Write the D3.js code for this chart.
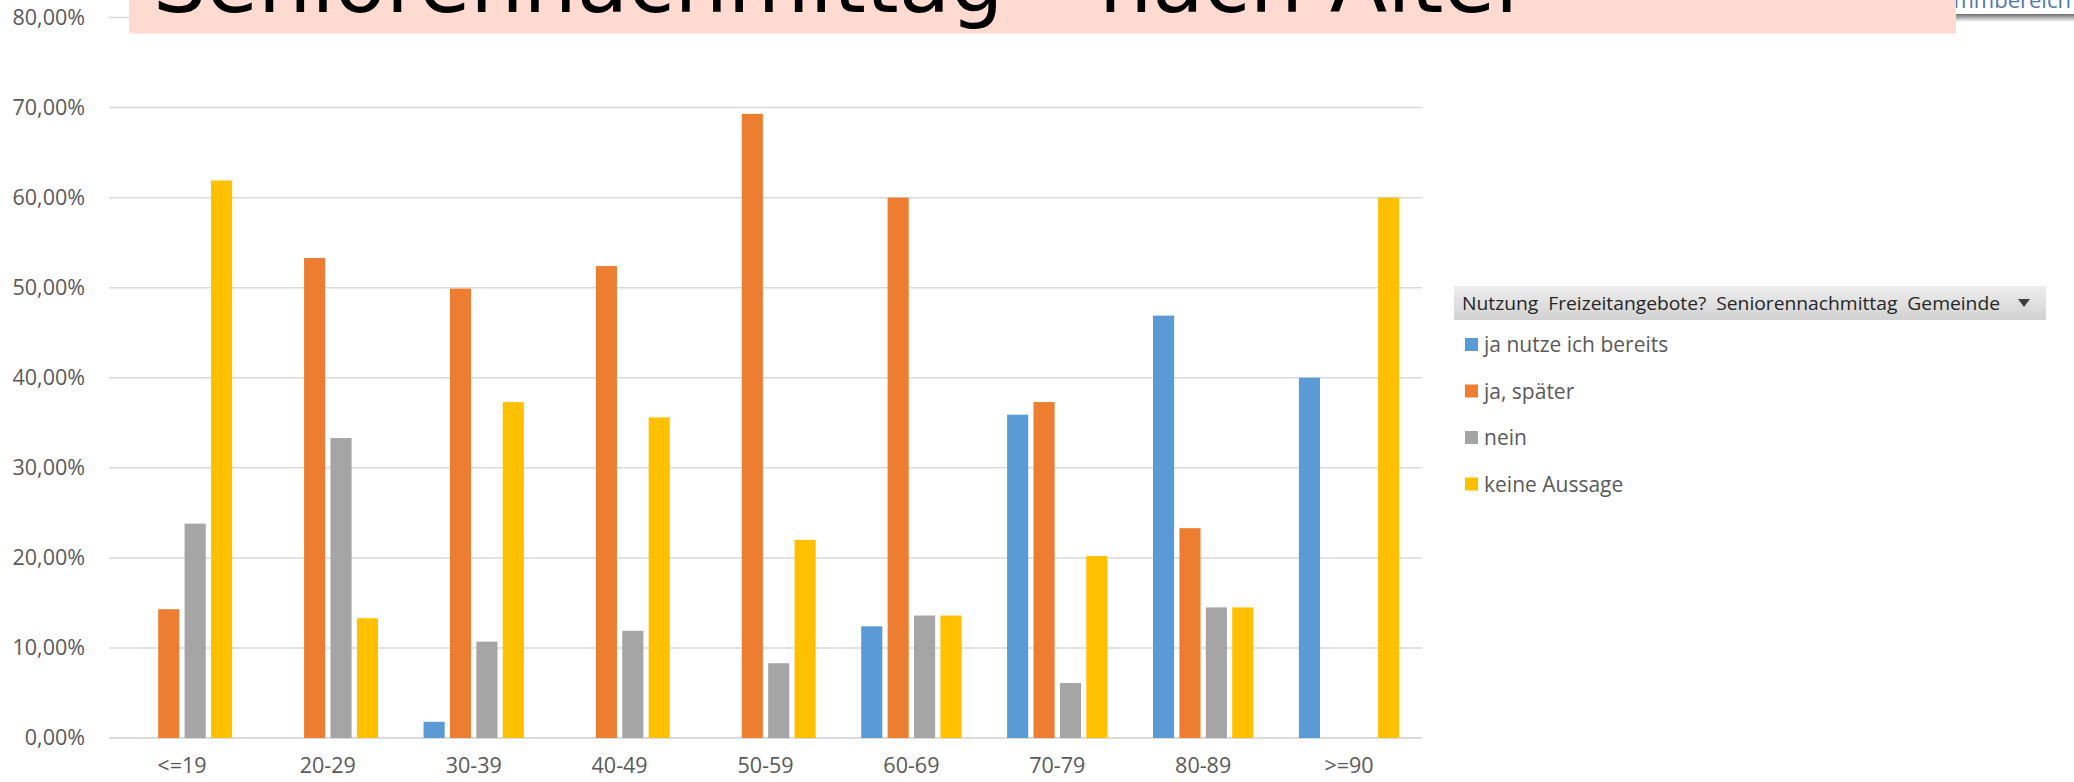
<!DOCTYPE html>
<html>
<head>
<meta charset="utf-8">
<script src="https://cdn.jsdelivr.net/npm/d3@7"></script>
<style>
  body { margin: 0; background: #fff; }
  svg { display: block; }
</style>
</head>
<body>
<svg id="chart" width="2074" height="782"></svg>
<script>
// data
const ageGroups = ["<=19", "20-29", "30-39", "40-49", "50-59", "60-69", "70-79", "80-89", ">=90"];
const seriesNames = ["ja nutze ich bereits", "ja, später", "nein", "keine Aussage"];
const jaBereits    = [0,     0,     0.018, 0,     0,     0.124, 0.359, 0.469, 0.40];
const jaSpaeter    = [0.143, 0.533, 0.499, 0.524, 0.693, 0.600, 0.373, 0.233, 0];
const nein         = [0.238, 0.333, 0.107, 0.119, 0.083, 0.136, 0.061, 0.145, 0];
const keineAussage = [0.619, 0.133, 0.373, 0.356, 0.220, 0.136, 0.202, 0.145, 0.60];
const yTicks = [0, 0.1, 0.2, 0.3, 0.4, 0.5, 0.6, 0.7, 0.8];
const colors = ["#5B9BD5", "#ED7D31", "#A5A5A5", "#FFC000"];
const title = "Seniorennachmittag – nach Alter";
const legendTitle = "Nutzung  Freizeitangebote?  Seniorennachmittag  Gemeinde";

const values = [jaBereits, jaSpaeter, nein, keineAussage];

const de = d3.formatLocale({decimal: ",", thousands: ".", grouping: [3], currency: ["", " €"], percent: "%"});
const pct = de.format(".2%");

const svg = d3.select("#chart");
const font = "'Open Sans', sans-serif";

const left = 109, right = 1422;
const y = d3.scaleLinear().domain([0, 0.8]).range([738, 17.5]);
const x0 = d3.scaleBand().domain(ageGroups).range([left, right]).paddingInner(0.276).paddingOuter(0.138);
const x1 = d3.scaleBand().domain(d3.range(4)).range([0, x0.bandwidth()]).paddingInner(0.2).paddingOuter(0.1);

// gridlines
svg.append("g")
  .selectAll("line")
  .data(yTicks)
  .join("line")
    .attr("x1", left).attr("x2", right)
    .attr("y1", d => y(d)).attr("y2", d => y(d))
    .attr("stroke", d => d === 0 ? "#cfcfcf" : "#d9d9d9")
    .attr("stroke-width", 1.5);

// y axis labels
const yAxis = d3.axisLeft(y).tickValues(yTicks).tickFormat(pct).tickSize(0).tickPadding(24);
svg.append("g")
  .attr("transform", `translate(${left},0)`)
  .call(yAxis)
  .call(g => g.select(".domain").remove())
  .call(g => g.selectAll("text")
    .attr("font-family", font).attr("font-size", 21.5).attr("fill", "#595959"));

// x axis labels
const xAxis = d3.axisBottom(x0).tickSize(0).tickPadding(20);
svg.append("g")
  .attr("transform", `translate(0,${y(0)})`)
  .call(xAxis)
  .call(g => g.select(".domain").remove())
  .call(g => g.selectAll("text")
    .attr("font-family", font).attr("font-size", 21.5).attr("fill", "#595959"));

// bars
const group = svg.append("g")
  .selectAll("g")
  .data(ageGroups)
  .join("g")
    .attr("transform", d => `translate(${x0(d)},0)`);

group.selectAll("rect")
  .data((d, i) => values.map((s, k) => ({k, v: s[i]})).filter(e => e.v > 0))
  .join("rect")
    .attr("x", d => x1(d.k))
    .attr("width", x1.bandwidth())
    .attr("y", d => y(d.v))
    .attr("height", d => y(0) - y(d.v))
    .attr("fill", d => colors[d.k]);

// cut-off field button at top right
const defs = svg.append("defs");
const shadow = defs.append("linearGradient").attr("id", "shadow").attr("x1", 0).attr("x2", 0).attr("y1", 0).attr("y2", 1);
shadow.append("stop").attr("offset", 0).attr("stop-color", "#6e6e6e");
shadow.append("stop").attr("offset", 1).attr("stop-color", "#ffffff");
svg.append("text")
  .attr("x", 1928).attr("y", 8)
  .attr("font-family", font).attr("font-size", 22).attr("fill", "#4f79ad")
  .text("Stimmbereich");
svg.append("rect")
  .attr("x", 1956).attr("y", 14).attr("width", 118).attr("height", 8)
  .attr("fill", "url(#shadow)");

// title box
svg.append("rect")
  .attr("x", 129).attr("y", 0).attr("width", 1827).attr("height", 33.5)
  .attr("fill", "#FFDAD0");
svg.append("text")
  .attr("x", 153).attr("y", 12)
  .attr("font-family", "'DejaVu Sans', sans-serif").attr("font-size", 84).attr("fill", "#000")
  .text(title);

// legend
const hdr = defs.append("linearGradient").attr("id", "hdr").attr("x1", 0).attr("x2", 0).attr("y1", 0).attr("y2", 1);
hdr.append("stop").attr("offset", 0).attr("stop-color", "#eeeeee");
hdr.append("stop").attr("offset", 1).attr("stop-color", "#d2d2d2");

const legend = svg.append("g").attr("transform", "translate(1454,0)");
legend.append("rect")
  .attr("x", 0).attr("y", 286).attr("width", 592).attr("height", 34)
  .attr("fill", "url(#hdr)");
legend.append("text")
  .attr("x", 8).attr("y", 309.5)
  .attr("font-family", font).attr("font-size", 18).attr("fill", "#262626")
  .attr("textLength", 538).attr("lengthAdjust", "spacingAndGlyphs")
  .attr("xml:space", "preserve")
  .text(legendTitle);
legend.append("path")
  .attr("d", "M564,299 L576,299 L570,307 Z")
  .attr("fill", "#404040");

const rowY = d3.scalePoint().domain(seriesNames).range([344.5, 484]);
const item = legend.selectAll("g.item")
  .data(seriesNames)
  .join("g")
    .attr("class", "item")
    .attr("transform", d => `translate(0,${rowY(d)})`);
item.append("rect")
  .attr("x", 11).attr("y", -6.5).attr("width", 13).attr("height", 13)
  .attr("fill", (d, i) => colors[i]);
item.append("text")
  .attr("x", 30).attr("y", 7.5)
  .attr("font-family", font).attr("font-size", 21).attr("fill", "#595959")
  .text(d => d);
</script>
</body>
</html>
